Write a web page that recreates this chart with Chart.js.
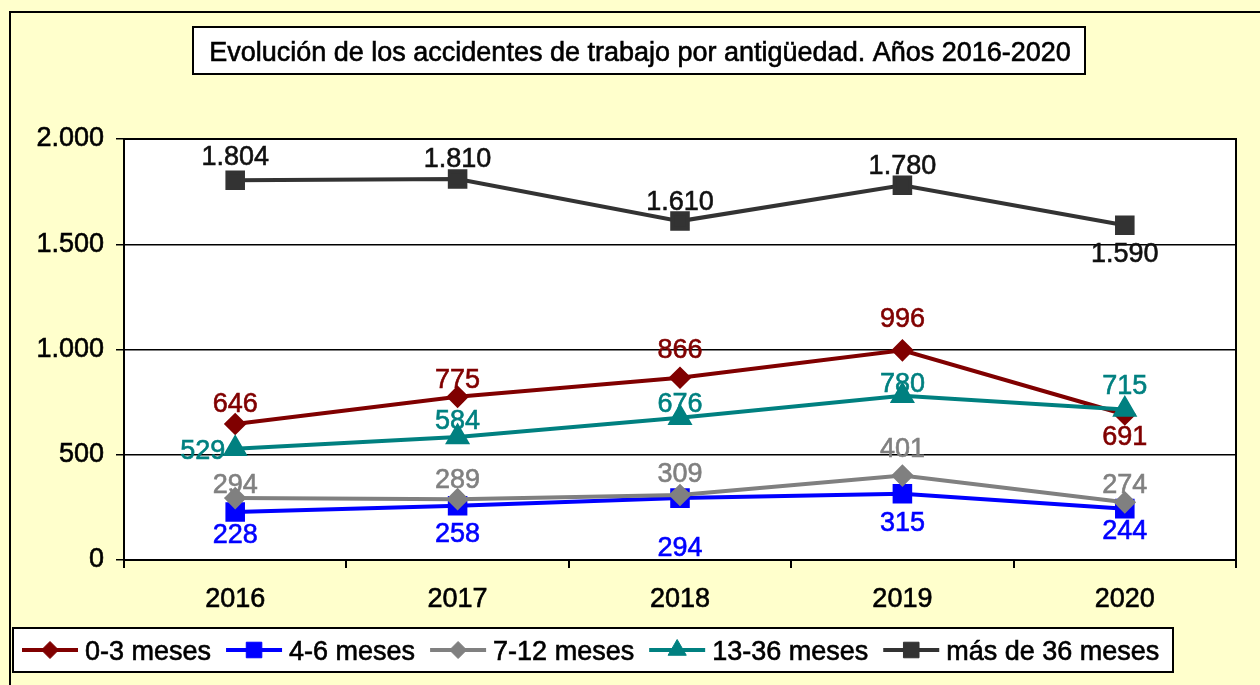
<!DOCTYPE html>
<html>
<head>
<meta charset="utf-8">
<script src="https://cdn.jsdelivr.net/npm/chart.js@4"></script>
<style>
  html, body { margin: 0; padding: 0; background: #FFFFCC; }
  #wrap { width: 1260px; height: 685px; position: relative; }
</style>
</head>
<body>
<div id="wrap"><canvas id="graf" width="1260" height="685"></canvas></div>
<script>
const years = ['2016', '2017', '2018', '2019', '2020'];
const meses0a3 = [646, 775, 866, 996, 691];
const meses4a6 = [228, 258, 294, 315, 244];
const meses7a12 = [294, 289, 309, 401, 274];
const meses13a36 = [529, 584, 676, 780, 715];
const masDe36 = [1804, 1810, 1610, 1780, 1590];
const yTicks = [0, 500, 1000, 1500, 2000];
const titulo = 'Evolución de los accidentes de trabajo por antigüedad. Años 2016-2020';

const FONT = '"Liberation Sans", Arial, Helvetica, sans-serif';
const FS = 27;

// desplazamiento vertical de cada etiqueta respecto a su punto (null = a la izquierda)
const labelDy = [
  [-22, -19, -30, -33, 20],
  [21, 26, 48, 27, 20],
  [-15, -21, -23, -29, -19],
  [null, -18, -16, -14, -25],
  [-25, -22, -21, -21, 27]
];
const labelColors = ['#800000', '#0000FF', '#808080', '#008080', '#111111'];

function fmt(v) {
  return v.toString().replace(/\B(?=(\d{3})+(?!\d))/g, '.');
}

const ctx = document.getElementById('graf').getContext('2d');

function texto(c, t, x, y, color) {
  c.fillStyle = color;
  c.strokeStyle = color;
  c.lineWidth = 0.6;
  c.fillText(t, x, y);
  c.strokeText(t, x, y);
}

const decorPlugin = {
  id: 'decor',
  beforeDraw(chart) {
    const c = chart.ctx;
    const a = chart.chartArea;
    c.save();
    c.fillStyle = '#FFFFCC';
    c.fillRect(0, 0, chart.width, chart.height);
    // marco exterior
    c.strokeStyle = '#000';
    c.lineWidth = 2;
    c.beginPath();
    c.moveTo(10, 700);
    c.lineTo(10, 12);
    c.lineTo(1300, 12);
    c.stroke();
    // fondo del area
    c.fillStyle = '#fff';
    c.fillRect(a.left, a.top, a.right - a.left, a.bottom - a.top);
    // titulo
    c.font = FS + 'px ' + FONT;
    c.fillStyle = '#fff';
    c.fillRect(193, 27, 892, 47);
    c.strokeRect(193, 27, 892, 47);
    c.textAlign = 'center';
    c.textBaseline = 'alphabetic';
    texto(c, titulo, 640, 61, '#000');
    c.restore();
  },
  afterDraw(chart) {
    const c = chart.ctx;
    const a = chart.chartArea;
    c.save();
    // borde del area
    c.strokeStyle = '#000';
    c.lineWidth = 2;
    c.strokeRect(a.left, a.top, a.right - a.left, a.bottom - a.top);
    // etiquetas de datos
    c.font = FS + 'px ' + FONT;
    c.textBaseline = 'alphabetic';
    chart.data.datasets.forEach((ds, i) => {
      const meta = chart.getDatasetMeta(i);
      meta.data.forEach((pt, j) => {
        const dy = labelDy[i][j];
        let x = pt.x, y = pt.y;
        if (dy === null) {
          c.textAlign = 'right';
          x -= 10;
        } else {
          c.textAlign = 'center';
          y += dy;
        }
        texto(c, fmt(ds.data[j]), x, y + 10, labelColors[i]);
      });
    });
    // leyenda
    const lx = 13, ly = 628, lw = 1160, lh = 44;
    c.fillStyle = '#fff';
    c.fillRect(lx, ly, lw, lh);
    c.lineWidth = 2;
    c.strokeStyle = '#000';
    c.strokeRect(lx, ly, lw, lh);
    let x = 22;
    const cy = ly + lh / 2;
    chart.data.datasets.forEach(ds => {
      c.strokeStyle = ds.borderColor;
      c.lineWidth = 4;
      c.beginPath();
      c.moveTo(x, cy);
      c.lineTo(x + 56, cy);
      c.stroke();
      c.fillStyle = ds.borderColor;
      c.lineWidth = 1;
      Chart.helpers.drawPoint(c, {pointStyle: ds.pointStyle, radius: ds.pointRadius, borderWidth: 1}, x + 28, cy);
      c.textAlign = 'left';
      c.font = FS + 'px ' + FONT;
      texto(c, ds.label, x + 63, cy + 10, '#000');
      x += 63 + c.measureText(ds.label).width + 15;
    });
    c.restore();
  }
};

function serie(label, data, color, style, radius, order) {
  return {
    label: label,
    data: data,
    borderColor: color,
    backgroundColor: color,
    pointBackgroundColor: color,
    pointBorderColor: color,
    pointStyle: style,
    pointRadius: radius,
    pointHoverRadius: radius,
    borderWidth: 4,
    tension: 0,
    order: order
  };
}

new Chart(ctx, {
  type: 'line',
  data: {
    labels: years,
    datasets: [
      serie('0-3 meses', meses0a3, '#800000', 'rectRot', 8.5, 5),
      serie('4-6 meses', meses4a6, '#0000FF', 'rect', 11, 4),
      serie('7-12 meses', meses7a12, '#808080', 'rectRot', 8.5, 3),
      serie('13-36 meses', meses13a36, '#008080', 'triangle', 10.5, 2),
      serie('más de 36 meses', masDe36, '#333333', 'rect', 11, 1)
    ]
  },
  options: {
    responsive: false,
    animation: false,
    devicePixelRatio: 1,
    layout: { padding: { left: 0, top: 139, right: 24, bottom: 75 } },
    plugins: {
      legend: { display: false },
      title: { display: false },
      tooltip: { enabled: false }
    },
    scales: {
      x: {
        offset: true,
        grid: { offset: true, drawOnChartArea: false, color: '#000', lineWidth: 2, tickLength: 8 },
        border: { color: '#000', width: 2 },
        ticks: {
          color: '#000', font: { family: FONT, size: FS }, padding: 15,
          textStrokeColor: '#000', textStrokeWidth: 0.6
        },
        afterFit(s) { s.height = 50; }
      },
      y: {
        min: 0,
        max: 2000,
        afterBuildTicks(s) { s.ticks = yTicks.map(v => ({ value: v })); },
        grid: { color: '#000', lineWidth: 1.5, tickLength: 8 },
        border: { color: '#000', width: 2 },
        ticks: {
          color: '#000',
          font: { family: FONT, size: FS },
          padding: 12,
          textStrokeColor: '#000', textStrokeWidth: 0.6,
          callback: v => fmt(v)
        },
        afterFit(s) { s.width = 124; }
      }
    }
  },
  plugins: [decorPlugin]
});
</script>
</body>
</html>
